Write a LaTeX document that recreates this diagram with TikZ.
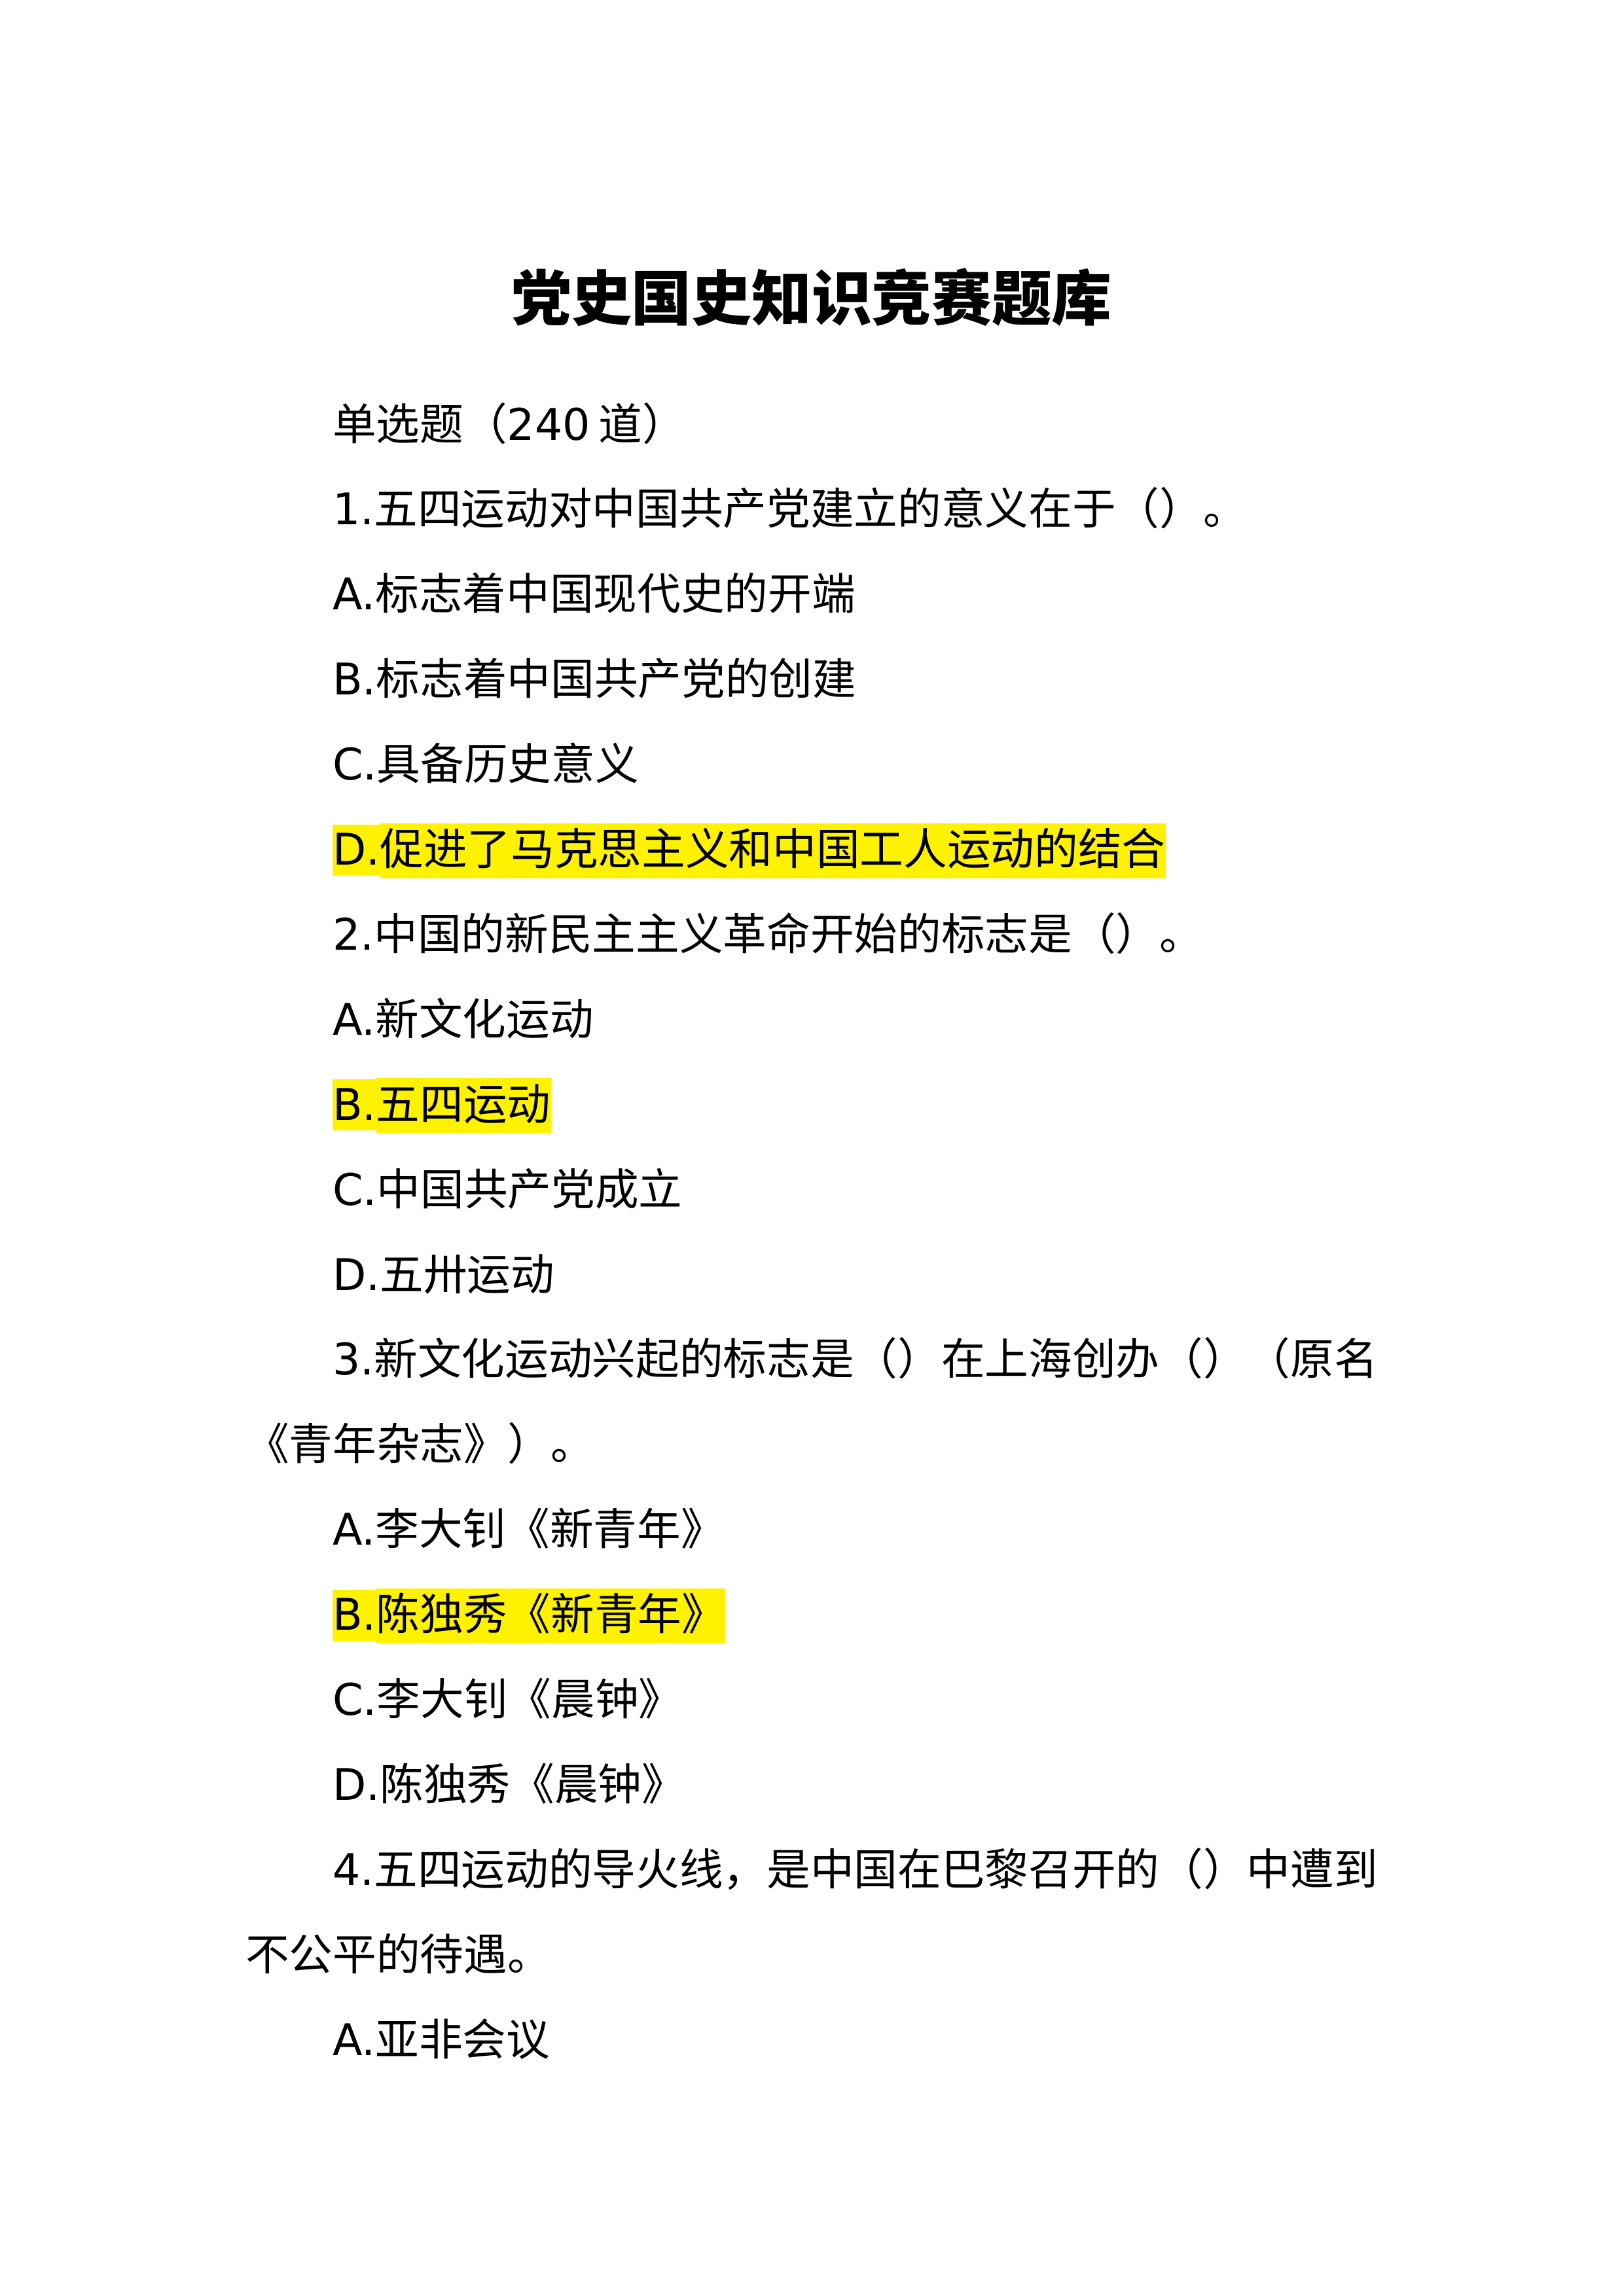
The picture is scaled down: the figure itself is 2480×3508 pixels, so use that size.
\documentclass[tikz,border=0pt]{standalone}
\usepackage{fontspec}
\setmainfont{Noto Sans CJK SC}
\newfontfamily\latinfont{DejaVu Sans}
\newcommand\lat[1]{{\latinfont #1}}
\newsavebox\hlsave
\newcommand\hlL[1]{\sbox\hlsave{\latinfont #1}\rlap{\color{yellow}\rule[-3.84bp]{\wd\hlsave}{18.72bp}}\usebox\hlsave}
\newcommand\hlC[1]{\sbox\hlsave{#1}\rlap{\color{yellow}\rule[-4.8bp]{\wd\hlsave}{20.16bp}}\usebox\hlsave}
\tikzset{
  txt/.style={anchor=base west, inner sep=0pt, outer sep=0pt, font=\fontsize{16bp}{20bp}\selectfont},
  ttl/.style={anchor=base, inner sep=0pt, outer sep=0pt, font=\fontsize{22bp}{28bp}\selectfont\bfseries}
}
\begin{document}
\begin{tikzpicture}[x=0.24bp, y=-0.24bp]
\useasboundingbox (0,0) rectangle (2480,3508);
\node[ttl] (title) at (1240,489) {党史国史知识竞赛题库};
\node[txt] (l0)  at (508,672.0)  {单选题（\lat{240}\hspace{3bp}道）};
\node[txt] (l1)  at (508,801.9)  {\lat{1.}五四运动对中国共产党建立的意义在于（）。};
\node[txt] (l2)  at (508,931.8)  {\lat{A.}标志着中国现代史的开端};
\node[txt] (l3)  at (508,1061.7) {\lat{B.}标志着中国共产党的创建};
\node[txt] (l4)  at (508,1191.6) {\lat{C.}具备历史意义};
\node[txt] (l5)  at (508,1321.5) {\hlL{D.}\hlC{促进了马克思主义和中国工人运动的结合}};
\node[txt] (l6)  at (508,1451.4) {\lat{2.}中国的新民主主义革命开始的标志是（）。};
\node[txt] (l7)  at (508,1581.3) {\lat{A.}新文化运动};
\node[txt] (l8)  at (508,1711.2) {\hlL{B.}\hlC{五四运动}};
\node[txt] (l9)  at (508,1841.1) {\lat{C.}中国共产党成立};
\node[txt] (l10) at (508,1971.0) {\lat{D.}五卅运动};
\node[txt] (l11) at (508,2100.9) {\lat{3.}新文化运动兴起的标志是（）在上海创办（）（原名};
\node[txt] (l12) at (375,2230.8) {《青年杂志》）。};
\node[txt] (l13) at (508,2360.7) {\lat{A.}李大钊《新青年》};
\node[txt] (l14) at (508,2490.6) {\hlL{B.}\hlC{陈独秀《新青年》}};
\node[txt] (l15) at (508,2620.5) {\lat{C.}李大钊《晨钟》};
\node[txt] (l16) at (508,2750.4) {\lat{D.}陈独秀《晨钟》};
\node[txt] (l17) at (508,2880.3) {\lat{4.}五四运动的导火线，是中国在巴黎召开的（）中遭到};
\node[txt] (l18) at (375,3010.2) {不公平的待遇。};
\node[txt] (l19) at (508,3140.1) {\lat{A.}亚非会议};
\end{tikzpicture}
\end{document}
